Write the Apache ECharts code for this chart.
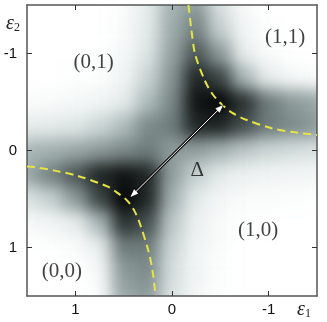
<!DOCTYPE html>
<html>
<head>
<meta charset="utf-8">
<script src="https://cdn.jsdelivr.net/npm/echarts@6/dist/echarts.min.js"></script>
<style>
  html, body { margin: 0; padding: 0; background: #fff; }
  #wrap { position: relative; width: 327px; height: 322px; }
  /* the density map sits under the axes, softened by a blur */
  #mapClip { position: absolute; left: 27px; top: 5px; width: 290px; height: 291px; overflow: hidden; }
  #mapChart { position: absolute; left: -12px; top: -12px; width: 314px; height: 315px; filter: blur(8px); }
  #mainChart { position: absolute; left: 0; top: 0; width: 327px; height: 322px; z-index: 2; }
</style>
</head>
<body>
<div id="wrap">
  <div id="mapClip"><div id="mapChart"></div></div>
  <div id="mainChart"></div>
</div>
<script>
// grid of the density map: columns eps1 (left -> right), rows eps2 (top -> bottom)
const e1Values = [1.5, 1.25, 1, 0.75, 0.5, 0.25, 0, -0.25, -0.5, -0.75, -1, -1.25, -1.5];
const e2Values = [-1.5, -1.25, -1, -0.75, -0.5, -0.25, 0, 0.25, 0.5, 0.75, 1, 1.25, 1.5];
// darkness, 0 = white, 1 = black
const darkness = [
  [0.00, 0.00, 0.00, 0.00, 0.03, 0.16, 0.42, 0.50, 0.22, 0.05, 0.00, 0.00, 0.00],
  [0.00, 0.00, 0.00, 0.00, 0.04, 0.18, 0.44, 0.58, 0.30, 0.08, 0.01, 0.00, 0.00],
  [0.00, 0.00, 0.00, 0.01, 0.06, 0.21, 0.47, 0.70, 0.50, 0.15, 0.03, 0.00, 0.00],
  [0.00, 0.00, 0.01, 0.02, 0.09, 0.28, 0.52, 0.85, 0.75, 0.40, 0.15, 0.06, 0.03],
  [0.03, 0.04, 0.06, 0.09, 0.17, 0.38, 0.56, 0.92, 0.97, 0.80, 0.60, 0.50, 0.45],
  [0.15, 0.17, 0.20, 0.27, 0.38, 0.55, 0.60, 0.85, 0.85, 0.72, 0.60, 0.55, 0.50],
  [0.40, 0.42, 0.45, 0.50, 0.55, 0.60, 0.50, 0.48, 0.42, 0.33, 0.27, 0.24, 0.22],
  [0.45, 0.58, 0.70, 0.85, 0.92, 0.85, 0.48, 0.30, 0.18, 0.12, 0.09, 0.08, 0.07],
  [0.22, 0.30, 0.50, 0.75, 0.97, 0.85, 0.42, 0.18, 0.07, 0.04, 0.03, 0.02, 0.02],
  [0.05, 0.08, 0.15, 0.40, 0.80, 0.72, 0.33, 0.12, 0.04, 0.01, 0.00, 0.00, 0.00],
  [0.00, 0.01, 0.03, 0.15, 0.60, 0.60, 0.27, 0.09, 0.03, 0.00, 0.00, 0.00, 0.00],
  [0.00, 0.00, 0.00, 0.06, 0.50, 0.55, 0.24, 0.08, 0.02, 0.00, 0.00, 0.00, 0.00],
  [0.00, 0.00, 0.00, 0.03, 0.45, 0.50, 0.22, 0.07, 0.02, 0.00, 0.00, 0.00, 0.00]
];
// yellow dashed boundaries [eps1, eps2]
const upperCurve = [[-0.17, -1.5], [-0.2, -1.25], [-0.24, -0.99], [-0.34, -0.72], [-0.42, -0.58],
  [-0.52, -0.47], [-0.62, -0.39], [-0.76, -0.32], [-1.03, -0.23], [-1.25, -0.19], [-1.5, -0.16]];
const lowerCurve = [[1.5, 0.165], [1.43, 0.17], [1.2, 0.21], [0.98, 0.26], [0.67, 0.37], [0.56, 0.44],
  [0.46, 0.52], [0.39, 0.62], [0.33, 0.76], [0.24, 1.05], [0.2, 1.25], [0.17, 1.5]];
// double arrow Delta
const arrowEnds = [[0.40, 0.45], [-0.5, -0.44]];
const regionLabels = [[0.81, -0.91, '(0,1)'], [-1.17, -1.17, '(1,1)'], [-0.89, 0.82, '(1,0)'], [1.14, 1.25, '(0,0)'], [-0.26, 0.21, 'Δ']];
const tickValues = [-1, 0, 1];

const serif = "'Liberation Serif', 'Times New Roman', 'DejaVu Serif', serif";

const mapData = [];
darkness.forEach(function (row, r) {
  row.forEach(function (v, c) { mapData.push([c, r, v]); });
});

const mapChart = echarts.init(document.getElementById('mapChart'));
mapChart.setOption({
  animation: false,
  grid: { left: 0, right: 0, top: 0, bottom: 0 },
  xAxis: { type: 'category', data: e1Values, show: false },
  yAxis: { type: 'category', data: e2Values, inverse: true, show: false },
  visualMap: {
    show: false, min: 0, max: 1, dimension: 2,
    inRange: { color: ['#ffffff', '#dfe6e6', '#aab7b7', '#6f7c7c', '#2b3232', '#000000'] }
  },
  series: [{ type: 'heatmap', data: mapData, itemStyle: { borderWidth: 0 } }]
});

const axisCommon = {
  type: 'value', min: -1.5, max: 1.5, inverse: true,
  axisLine: { show: true, onZero: false, lineStyle: { color: '#555', width: 1.5 } },
  axisTick: { show: true, inside: true, length: 5, customValues: tickValues, lineStyle: { color: '#333' } },
  splitLine: { show: false }
};
const labelStyle = { color: '#111', fontSize: 15, fontFamily: "'Liberation Sans', Arial, sans-serif", customValues: tickValues };
const epsRich = {
  e: { fontFamily: serif, fontStyle: 'italic', fontSize: 20, fill: '#222' },
  s: { fontFamily: serif, fontSize: 12, fill: '#222', padding: [8, 0, 0, 0] }
};

const chart = echarts.init(document.getElementById('mainChart'));
chart.setOption({
  animation: false,
  grid: { left: 27, top: 5, width: 290, height: 291 },
  xAxis: [
    Object.assign({}, axisCommon, { position: 'bottom', axisLabel: Object.assign({ margin: 6 }, labelStyle) }),
    Object.assign({}, axisCommon, { position: 'top', axisLabel: { show: false } })
  ],
  yAxis: [
    Object.assign({}, axisCommon, { position: 'left', axisLabel: Object.assign({ margin: 10 }, labelStyle) }),
    Object.assign({}, axisCommon, { position: 'right', axisLabel: { show: false } })
  ],
  graphic: [
    { type: 'text', left: 6, top: 14, style: { text: '{e|ε}{s|2}', rich: epsRich } },
    { type: 'text', left: 297, top: 300, style: { text: '{e|ε}{s|1}', rich: epsRich } }
  ],
  series: [
    {
      type: 'line', data: upperCurve, smooth: 0.3, symbol: 'none',
      lineStyle: { color: '#e4e445', width: 2, type: [8, 5] }
    },
    {
      type: 'line', data: lowerCurve, smooth: 0.3, symbol: 'none',
      lineStyle: { color: '#e4e445', width: 2, type: [8, 5] }
    },
    {
      type: 'line', data: [], silent: true,
      markLine: {
        silent: true, animation: false,
        symbol: ['triangle', 'triangle'], symbolSize: [9, 11],
        label: { show: false },
        lineStyle: { color: '#111', width: 3, type: 'solid' },
        data: [[{ coord: arrowEnds[0] }, { coord: arrowEnds[1] }]]
      }
    },
    {
      type: 'line', data: [], silent: true,
      markLine: {
        silent: true, animation: false,
        symbol: ['triangle', 'triangle'], symbolSize: [6, 8],
        label: { show: false },
        lineStyle: { color: '#fff', width: 1, type: 'solid' },
        itemStyle: { color: '#fff' },
        data: [[{ coord: arrowEnds[0] }, { coord: arrowEnds[1] }]]
      }
    },
    {
      type: 'scatter', symbolSize: 0, silent: true,
      data: regionLabels.map(function (d) { return { value: [d[0], d[1]], name: d[2] }; }),
      label: {
        show: true, position: 'inside', formatter: '{b}',
        fontFamily: serif, fontSize: 21, color: '#111'
      }
    }
  ]
});
</script>
</body>
</html>
